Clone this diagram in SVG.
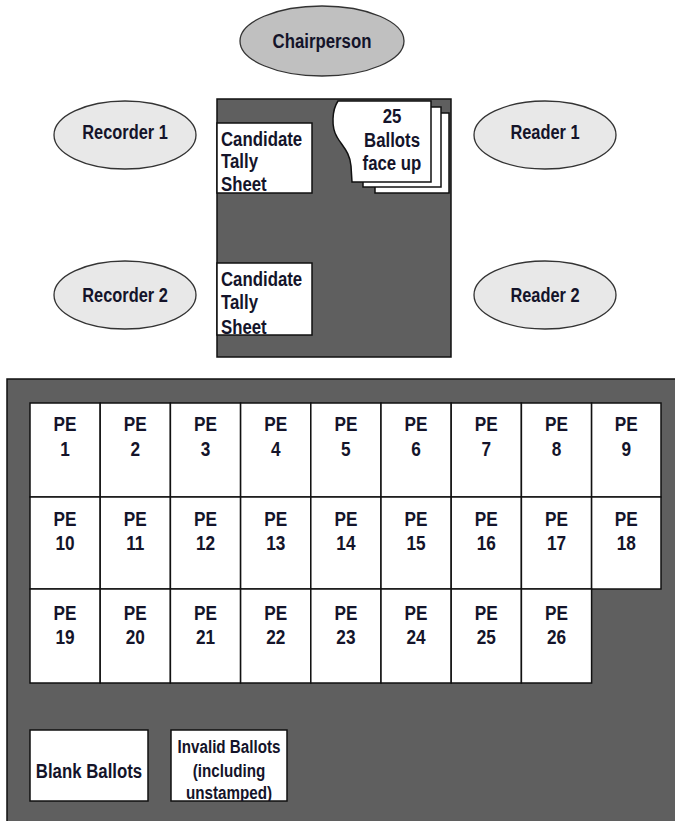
<svg xmlns="http://www.w3.org/2000/svg" width="675" height="821" viewBox="0 0 675 821">
<style>
text{font-family:"Liberation Sans",Arial,sans-serif;font-weight:bold;font-size:21px;fill:#14142a}
.c{text-anchor:middle}
.s{font-size:19px}
.role{fill:#e8e8e8;stroke:#333;stroke-width:1.3}
.chair{fill:#c0c0c0;stroke:#333;stroke-width:1.3}
.dark{fill:#5f5f5f;stroke:#111;stroke-width:1.5}
.paper{fill:#fff;stroke:#111;stroke-width:1.5}
.cell{fill:#fff;stroke:#111;stroke-width:1.5}
</style>
<defs>
<clipPath id="clipT1"><rect x="217" y="123" width="95" height="70"/></clipPath>
<clipPath id="clipT2"><rect x="217" y="263" width="95" height="72"/></clipPath>
<clipPath id="clipInv"><rect x="171" y="730" width="116" height="71"/></clipPath>
</defs>

<g id="chairperson">
<ellipse class="chair" cx="322" cy="41" rx="82" ry="35"/>
<text class="c" transform="translate(322,48) scale(.8,1)">Chairperson</text>
</g>
<g id="recorder1">
<ellipse class="role" cx="125" cy="135" rx="71" ry="34"/>
<text class="c" transform="translate(125,139) scale(.78,1)">Recorder 1</text>
</g>
<g id="recorder2">
<ellipse class="role" cx="125" cy="295" rx="71" ry="34"/>
<text class="c" transform="translate(125,302) scale(.78,1)">Recorder 2</text>
</g>
<g id="reader1">
<ellipse class="role" cx="545" cy="135" rx="71" ry="34"/>
<text class="c" transform="translate(545,139) scale(.78,1)">Reader 1</text>
</g>
<g id="reader2">
<ellipse class="role" cx="545" cy="295" rx="71" ry="34"/>
<text class="c" transform="translate(545,302) scale(.78,1)">Reader 2</text>
</g>

<g id="table">
<rect class="dark" x="217" y="99" width="234" height="258"/>
</g>
<g id="tally1">
<rect class="paper" x="217" y="123" width="95" height="70"/>
<g clip-path="url(#clipT1)">
<text transform="translate(221,146) scale(.8,1)">Candidate</text>
<text transform="translate(221,168) scale(.8,1)">Tally</text>
<text transform="translate(221,191) scale(.8,1)">Sheet</text>
</g>
</g>
<g id="tally2">
<rect class="paper" x="217" y="263" width="95" height="72"/>
<g clip-path="url(#clipT2)">
<text transform="translate(221,286) scale(.8,1)">Candidate</text>
<text transform="translate(221,309) scale(.8,1)">Tally</text>
<text transform="translate(221,334) scale(.8,1)">Sheet</text>
</g>
</g>
<g id="ballots">
<rect class="paper" x="375" y="113" width="74" height="80" stroke-width="1"/>
<rect class="paper" x="363" y="107" width="78" height="80" stroke-width="1"/>
<path class="paper" stroke-width="1" d="M338,101 L431,101 L431,182 L352,182 L351,166 C350,152 342,146 337,137 C331,127 332,110 338,101 Z"/>
<text class="c" transform="translate(392,123) scale(.8,1)">25</text>
<text class="c" transform="translate(392,147) scale(.8,1)">Ballots</text>
<text class="c" transform="translate(392,170) scale(.8,1)">face up</text>
</g>

<g id="counting-table">
<rect class="dark" x="7" y="379" width="680" height="450"/>
</g>

<g id="pe-grid">
<g id="pe1"><rect class="cell" x="30" y="403" width="70.2" height="94"/><text class="c" transform="translate(65.1,431) scale(.82,1)">PE</text><text class="c" transform="translate(65.1,456) scale(.82,1)">1</text></g>
<g id="pe2"><rect class="cell" x="100.2" y="403" width="70.2" height="94"/><text class="c" transform="translate(135.3,431) scale(.82,1)">PE</text><text class="c" transform="translate(135.3,456) scale(.82,1)">2</text></g>
<g id="pe3"><rect class="cell" x="170.4" y="403" width="70.2" height="94"/><text class="c" transform="translate(205.5,431) scale(.82,1)">PE</text><text class="c" transform="translate(205.5,456) scale(.82,1)">3</text></g>
<g id="pe4"><rect class="cell" x="240.6" y="403" width="70.2" height="94"/><text class="c" transform="translate(275.7,431) scale(.82,1)">PE</text><text class="c" transform="translate(275.7,456) scale(.82,1)">4</text></g>
<g id="pe5"><rect class="cell" x="310.8" y="403" width="70.2" height="94"/><text class="c" transform="translate(345.9,431) scale(.82,1)">PE</text><text class="c" transform="translate(345.9,456) scale(.82,1)">5</text></g>
<g id="pe6"><rect class="cell" x="381" y="403" width="70.2" height="94"/><text class="c" transform="translate(416.1,431) scale(.82,1)">PE</text><text class="c" transform="translate(416.1,456) scale(.82,1)">6</text></g>
<g id="pe7"><rect class="cell" x="451.2" y="403" width="70.2" height="94"/><text class="c" transform="translate(486.3,431) scale(.82,1)">PE</text><text class="c" transform="translate(486.3,456) scale(.82,1)">7</text></g>
<g id="pe8"><rect class="cell" x="521.4" y="403" width="70.2" height="94"/><text class="c" transform="translate(556.5,431) scale(.82,1)">PE</text><text class="c" transform="translate(556.5,456) scale(.82,1)">8</text></g>
<g id="pe9"><rect class="cell" x="591.6" y="403" width="69.4" height="94"/><text class="c" transform="translate(626.3,431) scale(.82,1)">PE</text><text class="c" transform="translate(626.3,456) scale(.82,1)">9</text></g>

<g id="pe10"><rect class="cell" x="30" y="497" width="70.2" height="92"/><text class="c" transform="translate(65.1,526) scale(.82,1)">PE</text><text class="c" transform="translate(65.1,550) scale(.82,1)">10</text></g>
<g id="pe11"><rect class="cell" x="100.2" y="497" width="70.2" height="92"/><text class="c" transform="translate(135.3,526) scale(.82,1)">PE</text><text class="c" transform="translate(135.3,550) scale(.82,1)">11</text></g>
<g id="pe12"><rect class="cell" x="170.4" y="497" width="70.2" height="92"/><text class="c" transform="translate(205.5,526) scale(.82,1)">PE</text><text class="c" transform="translate(205.5,550) scale(.82,1)">12</text></g>
<g id="pe13"><rect class="cell" x="240.6" y="497" width="70.2" height="92"/><text class="c" transform="translate(275.7,526) scale(.82,1)">PE</text><text class="c" transform="translate(275.7,550) scale(.82,1)">13</text></g>
<g id="pe14"><rect class="cell" x="310.8" y="497" width="70.2" height="92"/><text class="c" transform="translate(345.9,526) scale(.82,1)">PE</text><text class="c" transform="translate(345.9,550) scale(.82,1)">14</text></g>
<g id="pe15"><rect class="cell" x="381" y="497" width="70.2" height="92"/><text class="c" transform="translate(416.1,526) scale(.82,1)">PE</text><text class="c" transform="translate(416.1,550) scale(.82,1)">15</text></g>
<g id="pe16"><rect class="cell" x="451.2" y="497" width="70.2" height="92"/><text class="c" transform="translate(486.3,526) scale(.82,1)">PE</text><text class="c" transform="translate(486.3,550) scale(.82,1)">16</text></g>
<g id="pe17"><rect class="cell" x="521.4" y="497" width="70.2" height="92"/><text class="c" transform="translate(556.5,526) scale(.82,1)">PE</text><text class="c" transform="translate(556.5,550) scale(.82,1)">17</text></g>
<g id="pe18"><rect class="cell" x="591.6" y="497" width="69.4" height="92"/><text class="c" transform="translate(626.3,526) scale(.82,1)">PE</text><text class="c" transform="translate(626.3,550) scale(.82,1)">18</text></g>

<g id="pe19"><rect class="cell" x="30" y="589" width="70.2" height="94"/><text class="c" transform="translate(65.1,620) scale(.82,1)">PE</text><text class="c" transform="translate(65.1,644) scale(.82,1)">19</text></g>
<g id="pe20"><rect class="cell" x="100.2" y="589" width="70.2" height="94"/><text class="c" transform="translate(135.3,620) scale(.82,1)">PE</text><text class="c" transform="translate(135.3,644) scale(.82,1)">20</text></g>
<g id="pe21"><rect class="cell" x="170.4" y="589" width="70.2" height="94"/><text class="c" transform="translate(205.5,620) scale(.82,1)">PE</text><text class="c" transform="translate(205.5,644) scale(.82,1)">21</text></g>
<g id="pe22"><rect class="cell" x="240.6" y="589" width="70.2" height="94"/><text class="c" transform="translate(275.7,620) scale(.82,1)">PE</text><text class="c" transform="translate(275.7,644) scale(.82,1)">22</text></g>
<g id="pe23"><rect class="cell" x="310.8" y="589" width="70.2" height="94" stroke-width="2"/><text class="c" transform="translate(345.9,620) scale(.82,1)">PE</text><text class="c" transform="translate(345.9,644) scale(.82,1)">23</text></g>
<g id="pe24"><rect class="cell" x="381" y="589" width="70.2" height="94"/><text class="c" transform="translate(416.1,620) scale(.82,1)">PE</text><text class="c" transform="translate(416.1,644) scale(.82,1)">24</text></g>
<g id="pe25"><rect class="cell" x="451.2" y="589" width="70.2" height="94"/><text class="c" transform="translate(486.3,620) scale(.82,1)">PE</text><text class="c" transform="translate(486.3,644) scale(.82,1)">25</text></g>
<g id="pe26"><rect class="cell" x="521.4" y="589" width="70.2" height="94"/><text class="c" transform="translate(556.5,620) scale(.82,1)">PE</text><text class="c" transform="translate(556.5,644) scale(.82,1)">26</text></g>
</g>

<g id="blank-ballots">
<rect class="paper" x="30" y="730" width="118" height="71"/>
<text class="c" transform="translate(89,778) scale(.8,1)">Blank Ballots</text>
</g>
<g id="invalid-ballots">
<rect class="paper" x="171" y="730" width="116" height="71"/>
<g clip-path="url(#clipInv)">
<text class="c s" transform="translate(229,753) scale(.8,1)">Invalid Ballots</text>
<text class="c s" transform="translate(229,777) scale(.8,1)">(including</text>
<text class="c s" transform="translate(229,799) scale(.8,1)">unstamped)</text>
</g>
</g>
</svg>
